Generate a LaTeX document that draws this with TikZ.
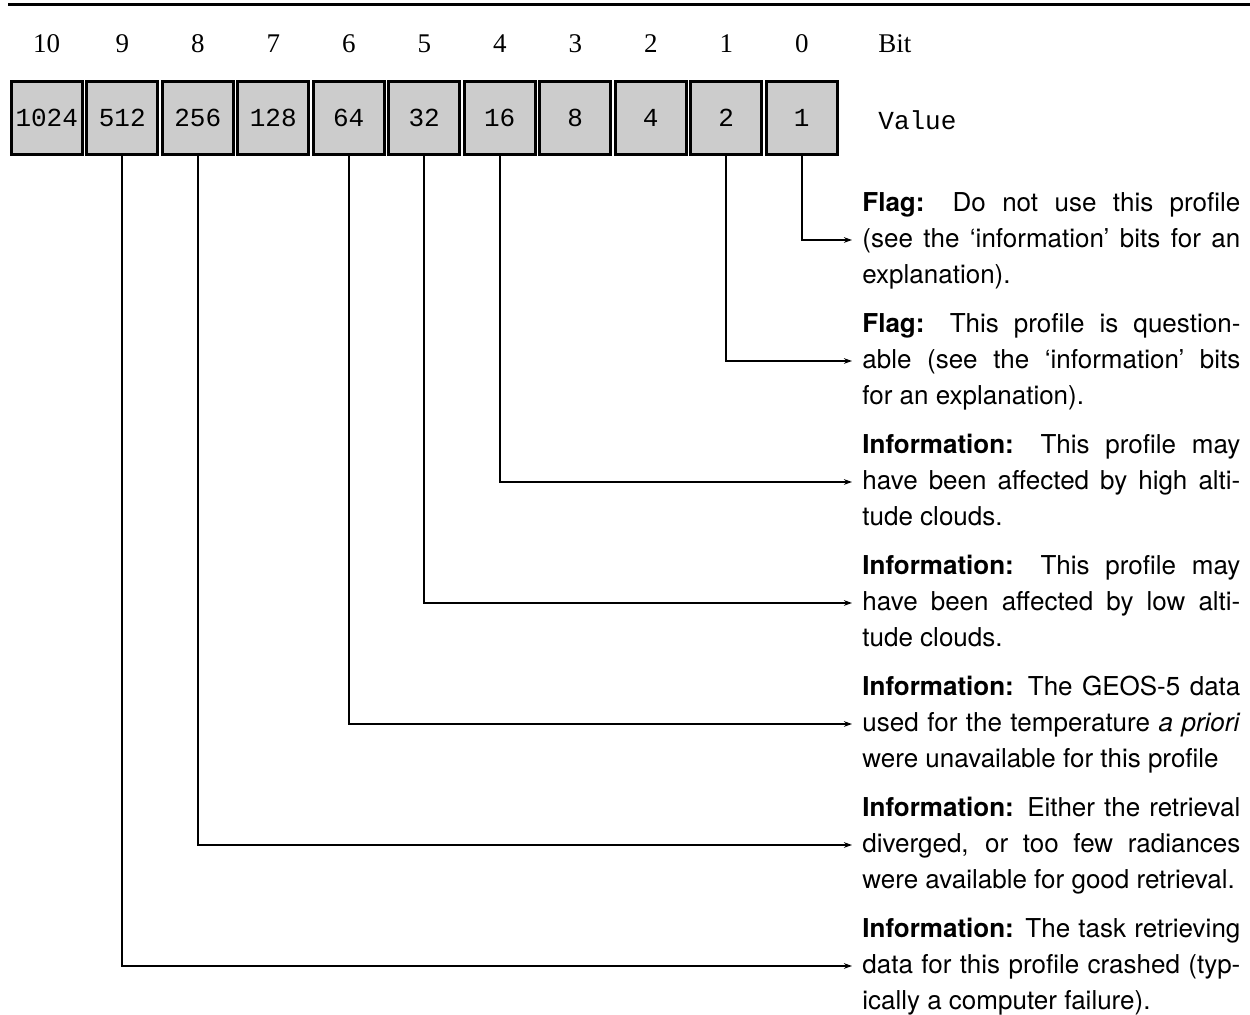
\documentclass[tikz,border=0pt]{standalone}
\usepackage{fontspec}
\setmainfont{Liberation Serif}
\setsansfont{TeX Gyre Heros}
\setmonofont{Liberation Mono}
\usetikzlibrary{arrows.meta}

\tikzset{
  valbox/.style={draw, line width=1.5pt, fill=black!20, minimum width=35.5pt,
    minimum height=36.5pt, inner sep=0pt, font=\ttfamily\fontsize{13pt}{15pt}\selectfont},
  bitlbl/.style={inner sep=0pt, font=\fontsize{13.5pt}{15pt}\selectfont},
  desc/.style={anchor=west, text width=189pt, align=justify, inner xsep=5pt,
    inner ysep=0pt, font=\sffamily\fontsize{13pt}{18pt}\selectfont},
  conn/.style={line width=0.9pt, -{Stealth[length=4pt,width=2.8pt]}}
}

\begin{document}
\begin{tikzpicture}[x=0.5pt,y=-0.5pt]
\useasboundingbox (0,0) rectangle (1250,1015);

          % Rule on top
          \draw[line width=1.5pt] (8,5) -- (1250,5);

          % Bit numbers and value boxes
          \foreach \b/\v in {0/1,1/2,2/4,3/8,4/16,5/32,6/64,7/128,8/256,9/512,10/1024}{
            \node[valbox] (b\b) at ({801.75-75.5*\b},118) {\v};
            \node[bitlbl] (n\b) at ({801.75-75.5*\b},44) {\b};
          }
          \node[bitlbl, anchor=west] (bit) at (878,44) {Bit};
          \node[anchor=west, inner sep=0pt, font=\ttfamily\fontsize{13pt}{15pt}\selectfont] (value) at (878,120) {Value};

          % Descriptions
          \node[desc] (f0) at (852,240) {\strut\textbf{Flag:} Do not use this profile\linebreak (see the ‘information’ bits for an\linebreak explanation).\strut};
          \node[desc] (f1) at (852,361) {\strut\textbf{Flag:} This profile is question-\linebreak able (see the ‘information’ bits\linebreak for an explanation).\strut};
          \node[desc] (f4) at (852,482) {\strut\textbf{Information:} This profile may\linebreak have been affected by high alti-\linebreak tude clouds.\strut};
          \node[desc] (f5) at (852,603) {\strut\textbf{Information:} This profile may\linebreak have been affected by low alti-\linebreak tude clouds.\strut};
          \node[desc] (f6) at (852,724) {\strut\textbf{Information:} The GEOS-5 data\linebreak used for the temperature \textit{a priori}\linebreak were unavailable for this profile\strut};
          \node[desc] (f8) at (852,845) {\strut\textbf{Information:} Either the retrieval\linebreak diverged, or too few radiances\linebreak were available for good retrieval.\strut};
          \node[desc] (f9) at (852,966) {\strut\textbf{Information:} The task retrieving\linebreak data for this profile crashed (typ-\linebreak ically a computer failure).\strut};

          % Connectors
          \foreach \b in {0,1,4,5,6,8,9}
            \draw[conn] (b\b.south) |- (f\b.west);

\end{tikzpicture}
\end{document}
